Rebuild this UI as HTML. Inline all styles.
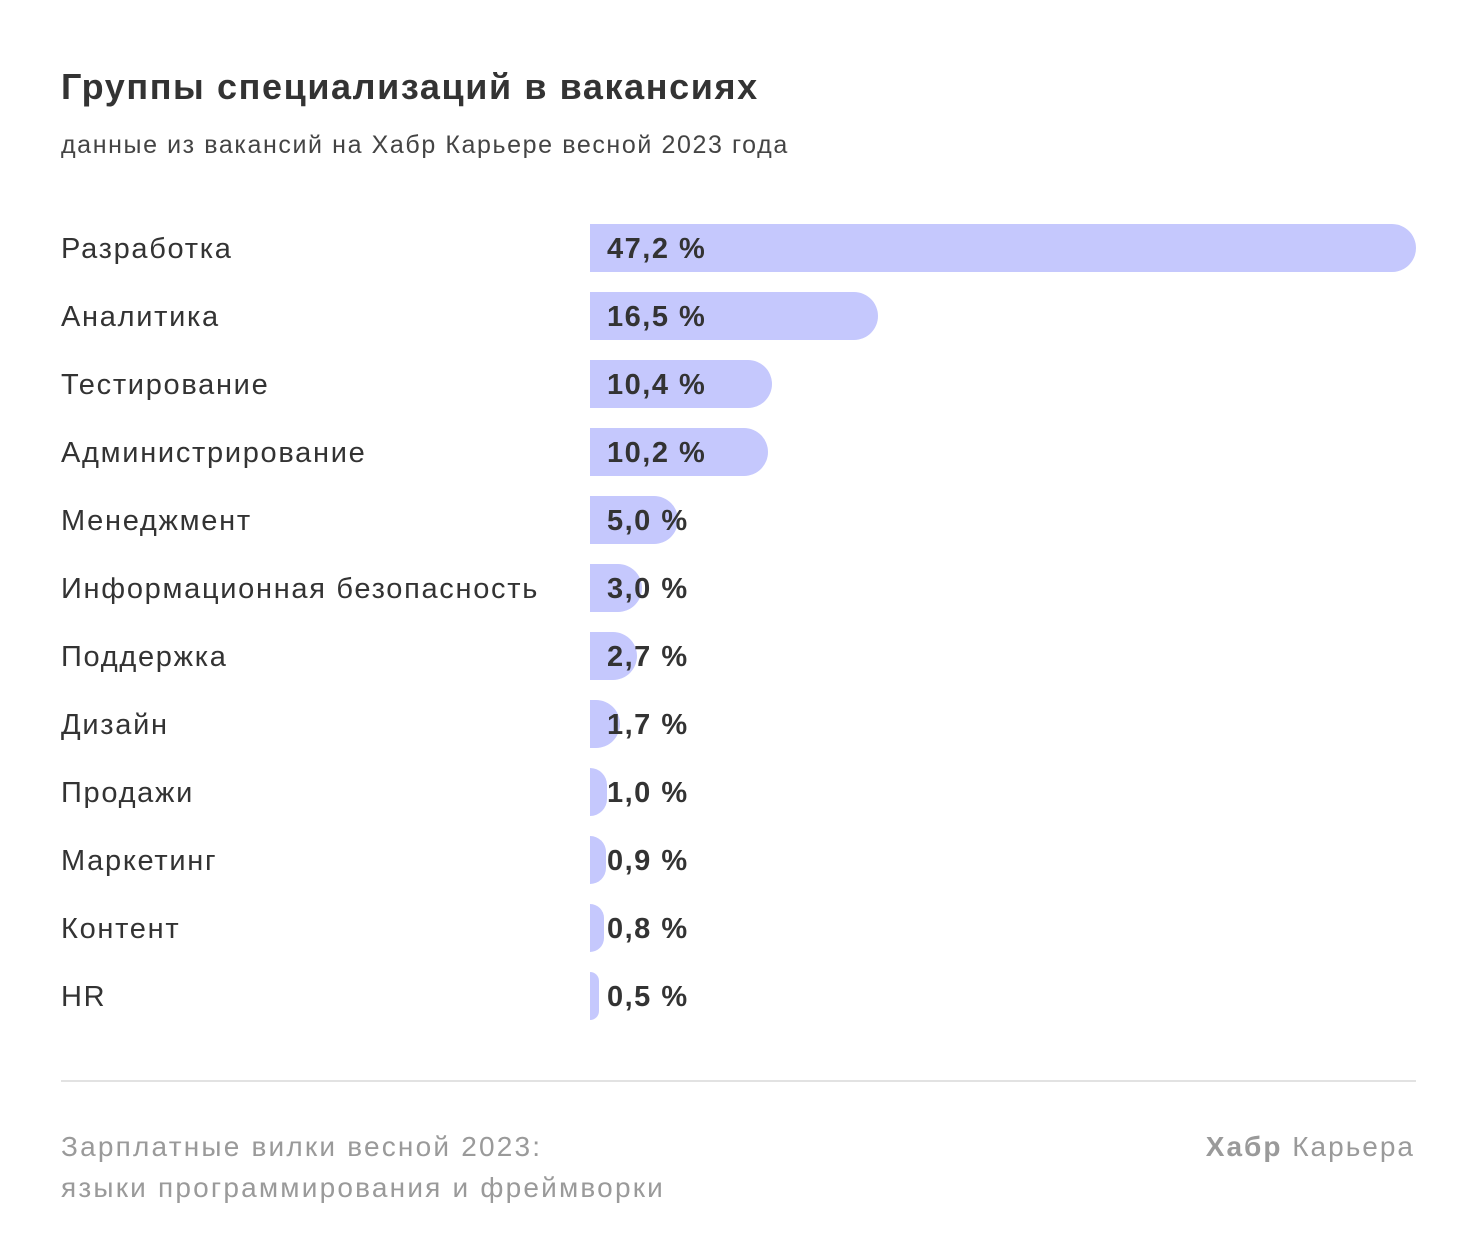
<!DOCTYPE html>
<html><head><meta charset="utf-8"><style>
html,body{margin:0;padding:0;background:#fff;}
body{width:1476px;height:1240px;position:relative;font-family:"Liberation Sans","DejaVu Sans",sans-serif;color:#333;overflow:hidden;}
.t{position:absolute;left:61px;top:66px;font-size:36px;font-weight:bold;color:#333;letter-spacing:1.6px;}
.s{position:absolute;left:61px;top:131px;font-size:25px;color:#444;letter-spacing:1.6px;}
.row{position:absolute;left:0;width:1476px;height:48px;}
.lab{position:absolute;left:61px;top:9px;font-size:29px;color:#333;white-space:nowrap;letter-spacing:1.7px;}
.bar{position:absolute;left:590px;top:0;height:48px;background:#c5c8fd;border-radius:0 24px 24px 0;}
.val{position:absolute;left:607px;top:9px;font-size:29px;font-weight:bold;color:#333;letter-spacing:1.5px;}
.line{position:absolute;left:61px;top:1080px;width:1355px;height:2px;background:#e2e2e2;}
.f{position:absolute;left:61px;top:1126px;font-size:28px;line-height:41px;color:#9a9a9a;letter-spacing:2.2px;}
.r{position:absolute;right:61px;top:1126px;font-size:28px;line-height:41px;color:#9a9a9a;letter-spacing:2px;}
</style></head><body>
<div class="t">Группы специализаций в вакансиях</div>
<div class="s">данные из вакансий на Хабр Карьере весной 2023 года</div>

<div class="row" style="top:224px"><div class="lab">Разработка</div><div class="bar" style="width:826px"></div><div class="val">47,2 %</div></div>
<div class="row" style="top:292px"><div class="lab">Аналитика</div><div class="bar" style="width:288px"></div><div class="val">16,5 %</div></div>
<div class="row" style="top:360px"><div class="lab">Тестирование</div><div class="bar" style="width:182px"></div><div class="val">10,4 %</div></div>
<div class="row" style="top:428px"><div class="lab">Администрирование</div><div class="bar" style="width:178px"></div><div class="val">10,2 %</div></div>
<div class="row" style="top:496px"><div class="lab">Менеджмент</div><div class="bar" style="width:88px"></div><div class="val">5,0 %</div></div>
<div class="row" style="top:564px"><div class="lab">Информационная безопасность</div><div class="bar" style="width:52px"></div><div class="val">3,0 %</div></div>
<div class="row" style="top:632px"><div class="lab">Поддержка</div><div class="bar" style="width:47px"></div><div class="val">2,7 %</div></div>
<div class="row" style="top:700px"><div class="lab">Дизайн</div><div class="bar" style="width:30px"></div><div class="val">1,7 %</div></div>
<div class="row" style="top:768px"><div class="lab">Продажи</div><div class="bar" style="width:17px"></div><div class="val">1,0 %</div></div>
<div class="row" style="top:836px"><div class="lab">Маркетинг</div><div class="bar" style="width:16px"></div><div class="val">0,9 %</div></div>
<div class="row" style="top:904px"><div class="lab">Контент</div><div class="bar" style="width:14px"></div><div class="val">0,8 %</div></div>
<div class="row" style="top:972px"><div class="lab">HR</div><div class="bar" style="width:9px"></div><div class="val">0,5 %</div></div>

<div class="line"></div>
<div class="f">Зарплатные вилки весной 2023:<br>языки программирования и фреймворки</div>
<div class="r"><b>Хабр</b> Карьера</div>
</body></html>
